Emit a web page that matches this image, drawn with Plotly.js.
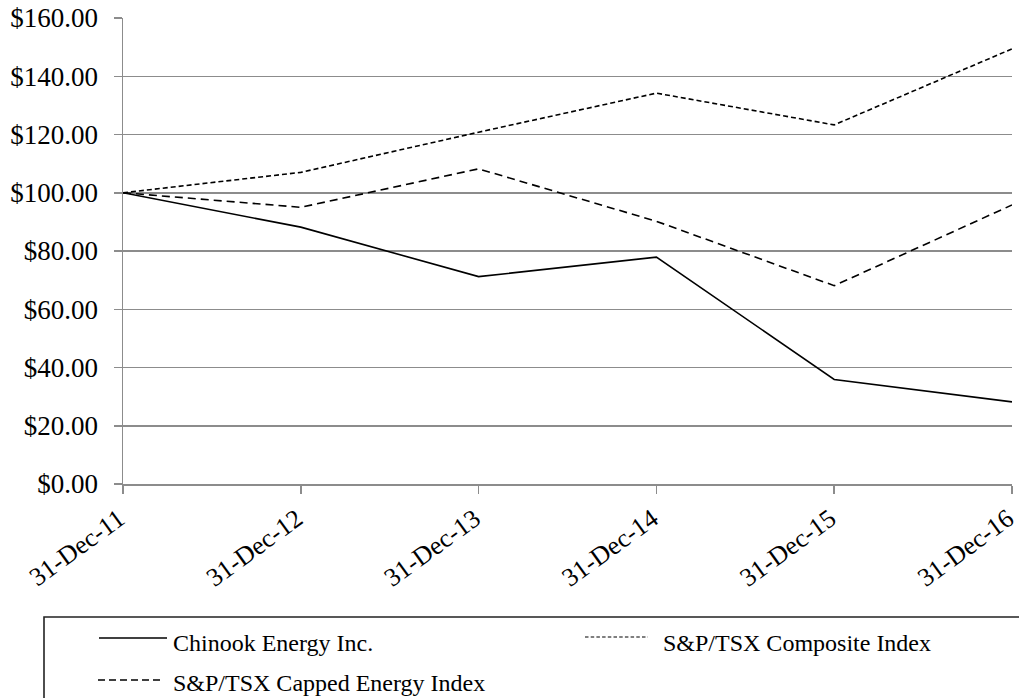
<!DOCTYPE html>
<html><head><meta charset="utf-8">
<script src="https://cdn.plot.ly/plotly-3.0.1.min.js"></script>
<style>html,body{margin:0;padding:0;background:#fff;}#chart{width:1019px;height:698px;}</style>
</head><body><div id="chart"></div>
<script>
const dates = ["31-Dec-11","31-Dec-12","31-Dec-13","31-Dec-14","31-Dec-15","31-Dec-16"];
const chinook = [100.00, 88.2, 71.2, 77.9, 35.9, 28.2];
const composite = [100.00, 107.0, 120.8, 134.2, 123.3, 149.4];
const energy = [100.00, 95.0, 108.2, 90.2, 68.1, 95.8];
const yTicks = [0,20,40,60,80,100,120,140,160];
const yTickText = yTicks.map(v => "$" + v.toFixed(2));
const seriesNames = ["Chinook Energy Inc.","S&P/TSX Composite Index","S&P/TSX Capped Energy Index"];

const FAM = "Liberation Serif, Times New Roman, serif";
const dashes = ["solid", "5px,3px", "8px,5px"];
const legendDashes = ["solid", "3.5px,2.2px", "7px,4px"];

// plot-area geometry (pixels) used only to place the legend box in paper units
const W = 1019, H = 698, L = 123, R = 7, T = 18, B = 214;
const pw = W - L - R, ph = H - T - B;
const px = x => (x - L) / pw;
const py = y => (H - B - y) / ph;

const traces = [chinook, composite, energy].map((vals, i) => ({
  x: dates, y: vals, name: seriesNames[i], mode: "lines",
  line: {color: "#000", width: 1.6, dash: dashes[i]}
}));

// legend drawn as shapes + annotations
const legendItems = [
  {x0: 99, x1: 167, y: 638, tx: 172, ty: 643},
  {x0: 585, x1: 648, y: 637, tx: 662, ty: 643},
  {x0: 98, x1: 162, y: 680, tx: 172, ty: 683}
];
const shapes = [
  {type: "rect", xref: "paper", yref: "paper", x0: px(44), x1: px(1040), y0: py(617), y1: py(720),
   line: {color: "#222", width: 1.6}, fillcolor: "rgba(0,0,0,0)"}
];
const annotations = [];
legendItems.forEach((it, i) => {
  shapes.push({type: "line", xref: "paper", yref: "paper", x0: px(it.x0), x1: px(it.x1), y0: py(it.y), y1: py(it.y),
    line: {color: "#000", width: i === 1 ? 1.2 : 1.6, dash: legendDashes[i]}});
  annotations.push({xref: "paper", yref: "paper", x: px(it.tx), y: py(it.ty), xanchor: "left", yanchor: "middle",
    text: seriesNames[i], showarrow: false, borderpad: 0, font: {family: FAM, size: 24, color: "#000"}});
});

const layout = {
  width: W, height: H,
  margin: {l: L, r: R, t: T, b: B, autoexpand: false},
  paper_bgcolor: "#fff", plot_bgcolor: "#fff",
  font: {family: FAM, size: 24, color: "#000"},
  showlegend: false,
  shapes: shapes, annotations: annotations,
  xaxis: {
    type: "category", range: [0, 5], tickangle: -36, automargin: false,
    showline: true, linecolor: "#8c8c8c", linewidth: 1.5,
    ticks: "outside", ticklen: 8, tickcolor: "#8c8c8c", tickwidth: 1.5,
    showgrid: false, zeroline: false, ticklabelstandoff: 0, ticklabelshift: -4,
    tickfont: {family: FAM, size: 26, color: "#000"}
  },
  yaxis: {
    range: [0, 160], tickvals: yTicks, ticktext: yTickText, automargin: false,
    showline: true, linecolor: "#8c8c8c", linewidth: 1.5,
    ticks: "outside", ticklen: 8, tickcolor: "#8c8c8c", tickwidth: 1.5,
    showgrid: true, gridcolor: "#8c8c8c", gridwidth: 1.5, zeroline: false,
    ticklabelstandoff: 10, tickfont: {family: FAM, size: 27, color: "#000"}
  }
};
Plotly.newPlot("chart", traces, layout, {displayModeBar: false, staticPlot: true});
</script></body></html>
